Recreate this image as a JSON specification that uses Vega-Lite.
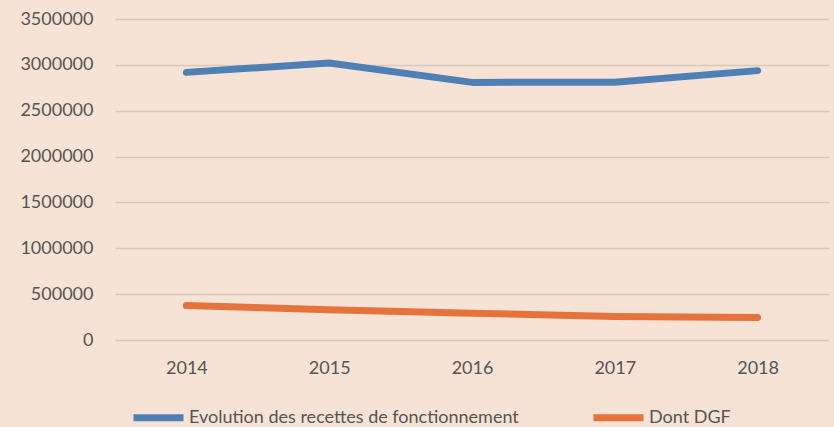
{
  "$schema": "https://vega.github.io/schema/vega-lite/v6.json",
  "autosize": {"type": "none"},
  "width": 714,
  "height": 321,
  "padding": {"left": 115, "top": 19, "right": 5, "bottom": 87},
  "background": "#f6e3d6",
  "config": {
    "view": {"stroke": null},
    "font": "Lato",
    "axis": {"labelFont": "Lato", "labelColor": "#555555", "labelFontSize": 18, "domain": false, "ticks": false, "title": null},
    "legend": {"labelFont": "Lato", "labelColor": "#555555", "labelFontSize": 18}
  },
  "data": {
    "values": [
      {"annee": "2014", "serie": "Evolution des recettes de fonctionnement", "valeur": 2918000},
      {"annee": "2015", "serie": "Evolution des recettes de fonctionnement", "valeur": 3020000},
      {"annee": "2016", "serie": "Evolution des recettes de fonctionnement", "valeur": 2809000},
      {"annee": "2017", "serie": "Evolution des recettes de fonctionnement", "valeur": 2810000},
      {"annee": "2018", "serie": "Evolution des recettes de fonctionnement", "valeur": 2937000},
      {"annee": "2014", "serie": "Dont DGF", "valeur": 375000},
      {"annee": "2015", "serie": "Dont DGF", "valeur": 330000},
      {"annee": "2016", "serie": "Dont DGF", "valeur": 292000},
      {"annee": "2017", "serie": "Dont DGF", "valeur": 257000},
      {"annee": "2018", "serie": "Dont DGF", "valeur": 245000}
    ]
  },
  "mark": {"type": "line", "strokeWidth": 7, "strokeCap": "round", "strokeJoin": "round"},
  "encoding": {
    "x": {
      "field": "annee", "type": "ordinal",
      "scale": {"type": "point", "padding": 0.5},
      "axis": {"labelAngle": 0, "grid": false, "labelPadding": 19}
    },
    "y": {
      "field": "valeur", "type": "quantitative",
      "scale": {"domain": [0, 3500000], "nice": false},
      "axis": {"values": [0, 500000, 1000000, 1500000, 2000000, 2500000, 3000000, 3500000], "format": "d", "gridColor": "#d8c8ba", "gridWidth": 1.5, "labelPadding": 22}
    },
    "color": {
      "field": "serie", "type": "nominal",
      "sort": ["Evolution des recettes de fonctionnement", "Dont DGF"],
      "scale": {"domain": ["Evolution des recettes de fonctionnement", "Dont DGF"], "range": ["#4e80b6", "#e5733b"]},
      "legend": {"orient": "none", "legendX": 15, "legendY": 370, "direction": "horizontal", "title": null, "symbolType": "stroke", "symbolSize": 2500, "symbolStrokeWidth": 7, "labelOffset": 2, "labelLimit": 0, "columnPadding": 60}
    }
  }
}
